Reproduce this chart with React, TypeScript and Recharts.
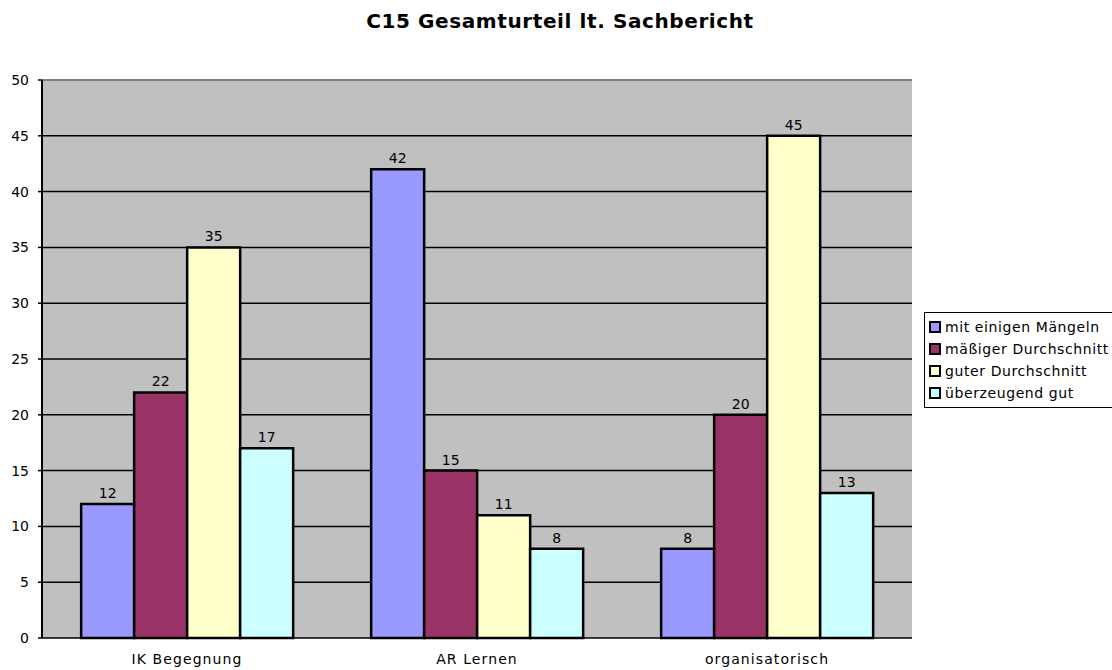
import React from 'react';
import { BarChart, Bar, XAxis, YAxis, CartesianGrid, LabelList, Legend, ReferenceLine } from 'recharts';

const categories = ['IK Begegnung', 'AR Lernen', 'organisatorisch'];
const seriesNames = ['mit einigen Mängeln', 'mäßiger Durchschnitt', 'guter Durchschnitt', 'überzeugend gut'];
const seriesColors = ['#9999FF', '#993366', '#FFFFCC', '#CCFFFF'];
const mitEinigenMaengeln = [12, 42, 8];
const maessigerDurchschnitt = [22, 15, 20];
const guterDurchschnitt = [35, 11, 45];
const ueberzeugendGut = [17, 8, 13];
const yTicks = [0, 5, 10, 15, 20, 25, 30, 35, 40, 45, 50];
const boundaryTicks = [0, 1, 2, 3];

const seriesValues = [mitEinigenMaengeln, maessigerDurchschnitt, guterDurchschnitt, ueberzeugendGut];
const keys = ['s0', 's1', 's2', 's3'];

const data = categories.map((name, i) => {
  const row: Record<string, string | number> = { name };
  seriesValues.forEach((vals, j) => {
    row[keys[j]] = vals[i];
  });
  return row;
});

const FONT = '"DejaVu Sans", Verdana, sans-serif';

const CatTick = (props: any) => {
  const { x, y, payload } = props;
  return (
    <text x={x} y={y + 18} textAnchor="middle" fontFamily={FONT} fontSize={14} letterSpacing={1.1} fill="#000">
      {payload.value}
    </text>
  );
};

const LegendBox = () => (
  <div
    style={{
      border: '1px solid #000',
      background: '#fff',
      padding: '3px 0 3px 4px',
      width: 200,
      boxSizing: 'border-box',
      fontFamily: FONT,
      fontSize: 14,
      letterSpacing: 0.6,
      whiteSpace: 'nowrap',
      overflow: 'hidden',
    }}
  >
    {seriesNames.map((n, i) => (
      <div key={n} style={{ display: 'flex', alignItems: 'center', height: 22 }}>
        <span
          style={{
            display: 'inline-block',
            width: 8,
            height: 8,
            background: seriesColors[i],
            border: '2px solid #000',
            marginRight: 4,
            flexShrink: 0,
          }}
        />
        <span style={{ color: '#000' }}>{n}</span>
      </div>
    ))}
  </div>
);

export default function App() {
  return (
    <div style={{ position: 'absolute', left: 0, top: 0, width: 1112, height: 670, background: '#fff', overflow: 'hidden' }}>
      <div
        style={{
          position: 'absolute',
          left: 0,
          width: 1120,
          top: 9,
          textAlign: 'center',
          fontFamily: FONT,
          fontWeight: 'bold',
          fontSize: 20,
          letterSpacing: 0.6,
          color: '#000',
        }}
      >
        C15 Gesamturteil lt. Sachbericht
      </div>
      <BarChart
        width={1112}
        height={670}
        data={data}
        margin={{ top: 80, right: 200, bottom: 2, left: 0 }}
        barGap={0}
        barCategoryGap="13.5%"
      >
        <CartesianGrid horizontal vertical={false} stroke="#000" strokeWidth={1.5} fill="#C0C0C0" fillOpacity={1} />
        <YAxis
          type="number"
          domain={[0, 50]}
          ticks={yTicks}
          interval={0}
          width={42}
          axisLine={{ stroke: '#000', strokeWidth: 2 }}
          tickLine={{ stroke: '#000', strokeWidth: 1.5 }}
          tickSize={4}
          tickMargin={9}
          tick={{ fontFamily: FONT, fontSize: 14, fill: '#000' }}
        />
        <XAxis
          xAxisId="band"
          type="number"
          domain={[0, 3]}
          ticks={boundaryTicks}
          interval={0}
          height={0}
          axisLine={{ stroke: '#000', strokeWidth: 2 }}
          tickLine={{ stroke: '#000', strokeWidth: 1.5 }}
          tickSize={5}
          tickFormatter={() => ''}
        />
        <XAxis
          dataKey="name"
          height={30}
          axisLine={false}
          tickLine={false}
          tick={<CatTick />}
          interval={0}
        />
        <ReferenceLine y={50} stroke="#808080" strokeWidth={2} />
        <ReferenceLine x={3} xAxisId="band" stroke="#808080" strokeWidth={2} />
        {keys.map((k, i) => (
          <Bar key={k} dataKey={k} name={seriesNames[i]} fill={seriesColors[i]} stroke="#000" strokeWidth={2.5} isAnimationActive={false}>
            <LabelList dataKey={k} position="top" offset={6} fontFamily={FONT} fontSize={14} fill="#000" />
          </Bar>
        ))}
        <Legend
          layout="vertical"
          align="center"
          verticalAlign="middle"
          content={<LegendBox />}
          wrapperStyle={{ position: 'absolute', left: 924, top: 312, width: 200, height: 'auto' }}
        />
      </BarChart>
    </div>
  );
}
